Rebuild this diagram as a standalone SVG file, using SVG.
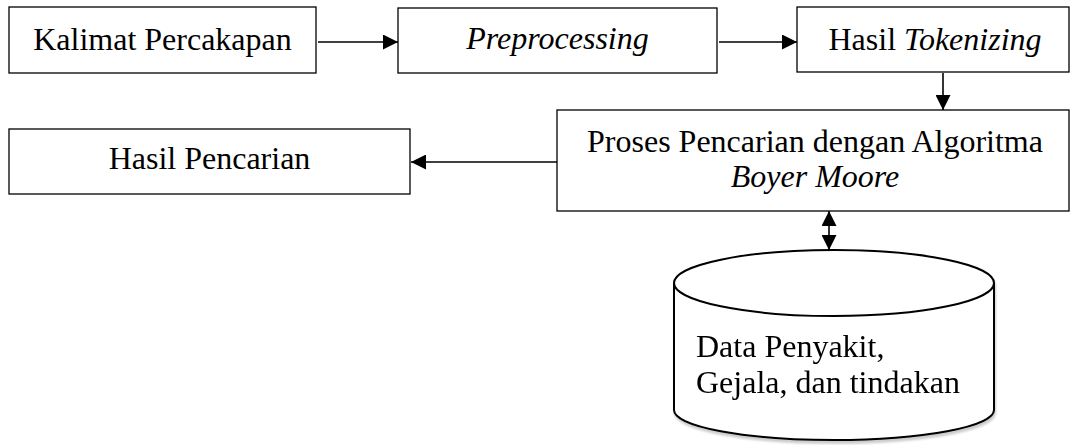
<svg xmlns="http://www.w3.org/2000/svg" width="1070" height="445" viewBox="0 0 1070 445">
<style>
.box{fill:#fff;stroke:#000;stroke-width:1.3}
.t{font-family:"Liberation Serif","Times New Roman",serif;font-size:32px;fill:#000}
.i{font-style:italic}
.c{stroke:#000;stroke-width:1.6;fill:none}
.cyl{fill:#fff;stroke:#000;stroke-width:2}
</style>
<defs>
<marker id="ah" viewBox="0 0 15 15" refX="15" refY="7.5" markerWidth="15" markerHeight="15" markerUnits="userSpaceOnUse" orient="auto-start-reverse">
<path d="M0,0 L15,7.5 L0,15 z" fill="#000"/>
</marker>
<filter id="sh" x="-10%" y="-20%" width="130%" height="150%">
<feGaussianBlur in="SourceAlpha" stdDeviation="1"/>
<feOffset dx="1" dy="3" result="b"/>
<feFlood flood-color="#000" flood-opacity="0.2"/>
<feComposite in2="b" operator="in"/>
<feMerge><feMergeNode/><feMergeNode in="SourceGraphic"/></feMerge>
</filter>
</defs>
<g id="connectors">
<line class="c" x1="318" y1="42" x2="398" y2="42" marker-end="url(#ah)"/>
<line class="c" x1="719" y1="42" x2="797" y2="42" marker-end="url(#ah)"/>
<line class="c" x1="943" y1="73" x2="943" y2="110" marker-end="url(#ah)"/>
<line class="c" x1="557" y1="162" x2="411" y2="162" marker-end="url(#ah)"/>
<line class="c" x1="829" y1="211" x2="829" y2="250" marker-start="url(#ah)" marker-end="url(#ah)"/>
</g>
<g id="n1">
<rect class="box" x="9" y="7" width="307" height="66"/>
<text class="t" x="162.5" y="50" text-anchor="middle">Kalimat Percakapan</text>
</g>
<g id="n2">
<rect class="box" x="398" y="8" width="319" height="65"/>
<text class="t i" x="557.5" y="49" text-anchor="middle">Preprocessing</text>
</g>
<g id="n3">
<rect class="box" x="797" y="7" width="272" height="65"/>
<text class="t" x="935" y="50" text-anchor="middle">Hasil <tspan class="i">Tokenizing</tspan></text>
</g>
<g id="n4">
<rect class="box" x="557" y="110" width="512" height="101"/>
<text class="t" x="815" y="152" text-anchor="middle">Proses Pencarian dengan Algoritma</text>
<text class="t i" x="815" y="187" text-anchor="middle">Boyer Moore</text>
</g>
<g id="n5">
<rect class="box" x="9" y="129" width="401" height="65"/>
<text class="t" x="209.5" y="169" text-anchor="middle">Hasil Pencarian</text>
</g>
<g id="n6" filter="url(#sh)">
<path class="cyl" d="M674,283 L674,410 A160,30 0 0 0 994,410 L994,283 A160,33 0 0 0 674,283 Z"/>
<path class="cyl" d="M674,283 A160,33 0 0 0 994,283" fill="none"/>
<text class="t" x="696" y="357">Data Penyakit,</text>
<text class="t" x="696" y="393">Gejala, dan tindakan</text>
</g>
</svg>
